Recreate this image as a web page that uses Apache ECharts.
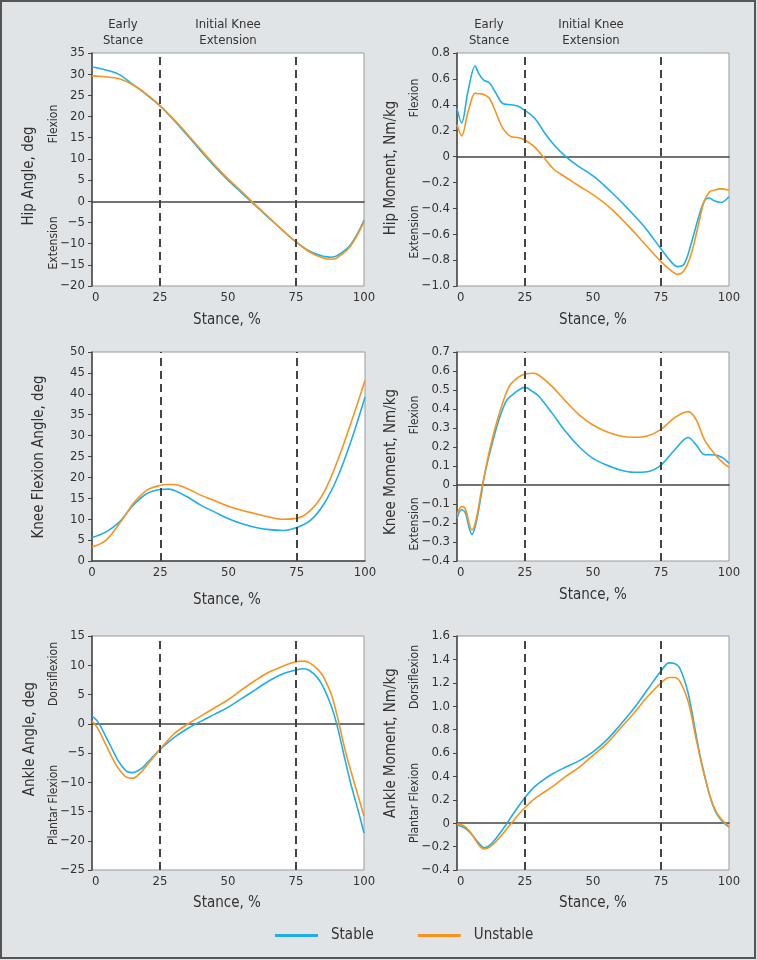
<!DOCTYPE html>
<html>
<head>
<meta charset="utf-8">
<script src="https://cdn.jsdelivr.net/npm/echarts/dist/echarts.min.js"></script>
<style>
html,body{margin:0;padding:0;background:#e1e4e7;}
#chart{width:757px;height:960px;}
</style>
</head>
<body>
<div id="chart"></div>
<script>
// ---------- DATA ----------
const stanceTicks = [0, 25, 50, 75, 100];
const phaseLines = [25, 75];
const seriesNames = ['Stable', 'Unstable'];

const hipAngleX = [0,5,10,15,20,25,30,35,40,45,50,55,60,65,70,75,80,85,88,90,95,100];
const hipAngleStable = [31.7,31.0,29.9,27.6,25.2,22.5,19.2,15.6,11.9,8.3,5.0,2.0,-1.0,-3.9,-6.8,-9.6,-11.8,-13.0,-13.2,-12.9,-10.3,-4.5];
const hipAngleUnstable = [29.6,29.4,28.9,27.5,25.3,22.6,19.4,15.9,12.2,8.6,5.3,2.3,-0.8,-3.8,-6.8,-9.6,-12.0,-13.4,-13.7,-13.4,-10.6,-4.8];

const hipMomentX = [0,1.7,4,6.7,8,9.8,11.9,14.3,16.8,19.8,22.3,24.7,28.4,32,35.7,40,44.3,50.4,56.5,62.7,68.8,74.9,78.6,81,83.5,86,88.4,90.8,92.7,94.5,96.9,100];
const hipMomentStable = [0.37,0.26,0.50,0.70,0.64,0.59,0.57,0.49,0.41,0.40,0.39,0.36,0.30,0.19,0.09,0.0,-0.07,-0.155,-0.27,-0.40,-0.54,-0.71,-0.81,-0.85,-0.83,-0.68,-0.50,-0.35,-0.32,-0.34,-0.355,-0.31];
const hipMomentUnstable = [0.245,0.16,0.34,0.49,0.485,0.48,0.45,0.34,0.22,0.155,0.147,0.13,0.077,-0.01,-0.10,-0.16,-0.22,-0.30,-0.40,-0.53,-0.67,-0.81,-0.88,-0.91,-0.88,-0.76,-0.56,-0.35,-0.275,-0.26,-0.25,-0.26];

const kneeAngleX = [0,5,10,13,15,20,25,28,30,35,40,45,50,55,60,65,70,75,80,85,90,95,100];
const kneeAngleStable = [5.6,6.9,9.3,11.7,13.3,16.1,17.1,17.2,16.9,15.3,13.3,11.7,10.1,8.9,8.0,7.5,7.3,8.0,9.7,13.7,20.1,28.9,39.2];
const kneeAngleUnstable = [3.4,4.9,8.9,11.7,13.7,16.9,18.1,18.3,18.3,17.3,15.7,14.4,13.1,12.1,11.3,10.5,10.0,10.2,12.1,16.5,24.1,33.3,43.2];

const kneeMomentX = [0,1.7,3,5.5,7,9,10,12,15,18,20,25,28,30,35,40,45,50,55,60,65,70,75,80,85,88,91,95,98,100];
const kneeMomentStable = [-0.175,-0.13,-0.145,-0.26,-0.20,-0.044,0.044,0.167,0.325,0.44,0.47,0.514,0.49,0.468,0.377,0.28,0.20,0.14,0.105,0.079,0.067,0.07,0.105,0.184,0.25,0.21,0.16,0.158,0.14,0.114];
const kneeMomentUnstable = [-0.158,-0.114,-0.123,-0.237,-0.184,-0.026,0.044,0.184,0.35,0.48,0.535,0.584,0.588,0.579,0.518,0.44,0.368,0.316,0.28,0.258,0.251,0.258,0.293,0.354,0.386,0.342,0.237,0.158,0.114,0.093];

const ankleAngleX = [0,2,5,8,10,13,15,18,20,25,30,35,40,45,50,55,60,65,70,75,78,80,83,85,88,90,93,95,98,100];
const ankleAngleStable = [1.3,0.45,-2.1,-4.9,-6.6,-8.2,-8.35,-7.7,-6.8,-4.4,-2.4,-0.85,0.4,1.6,2.8,4.3,5.8,7.3,8.5,9.2,9.4,9.1,7.8,6.3,3.0,-0.1,-6.1,-10.0,-15.1,-18.7];
const ankleAngleUnstable = [0.45,-0.7,-3.5,-6.3,-7.8,-9.2,-9.3,-8.3,-7.2,-4.4,-1.8,-0.1,1.3,2.7,4.1,5.8,7.4,8.8,9.8,10.6,10.7,10.4,9.3,8.1,5.0,1.6,-4.4,-7.8,-12.6,-15.8];

const ankleMomentX = [0,3,5,8,10,12,15,18,20,23,25,28,30,35,40,45,50,55,60,65,70,75,78,80,82,85,88,90,93,95,97,100];
const ankleMomentStable = [-0.014,-0.043,-0.085,-0.17,-0.21,-0.19,-0.11,-0.014,0.057,0.157,0.22,0.30,0.34,0.42,0.48,0.535,0.61,0.71,0.84,0.98,1.14,1.30,1.37,1.365,1.32,1.11,0.74,0.51,0.23,0.10,0.03,-0.034];
const ankleMomentUnstable = [-0.006,-0.03,-0.08,-0.185,-0.22,-0.205,-0.14,-0.057,0,0.085,0.134,0.2,0.234,0.31,0.40,0.48,0.58,0.68,0.81,0.94,1.08,1.20,1.245,1.245,1.21,1.04,0.71,0.50,0.23,0.11,0.04,-0.03];

// axis ranges
const hipAngleAxis = {min:-20, max:35, interval:5, dec:0};
const hipMomentAxis = {min:-1.0, max:0.8, interval:0.2, dec:1};
const kneeAngleAxis = {min:0, max:50, interval:5, dec:0};
const kneeMomentAxis = {min:-0.4, max:0.7, interval:0.1, dec:1};
const ankleAngleAxis = {min:-25, max:15, interval:5, dec:0};
const ankleMomentAxis = {min:-0.4, max:1.6, interval:0.2, dec:1};

// ---------- LAYOUT / STYLE ----------
const FONT = "'Liberation Sans Narrow','DejaVu Sans Condensed',sans-serif";
const TXT = '#333';
const BLUE = '#1eaee8';
const ORANGE = '#f7941d';
const TICK_SIZE = 13;
const TITLE_SIZE = 14;
const SMALL_SIZE = 12;

const panels = [
  {x:hipAngleX, s:hipAngleStable, u:hipAngleUnstable, ax:hipAngleAxis, grid:{left:92, top:53, width:272, height:233}},
  {x:hipMomentX, s:hipMomentStable, u:hipMomentUnstable, ax:hipMomentAxis, grid:{left:457, top:53, width:272, height:233}},
  {x:kneeAngleX, s:kneeAngleStable, u:kneeAngleUnstable, ax:kneeAngleAxis, grid:{left:92, top:352, width:273, height:209}},
  {x:kneeMomentX, s:kneeMomentStable, u:kneeMomentUnstable, ax:kneeMomentAxis, grid:{left:457, top:352, width:272, height:209}},
  {x:ankleAngleX, s:ankleAngleStable, u:ankleAngleUnstable, ax:ankleAngleAxis, grid:{left:92, top:636, width:272, height:234}},
  {x:ankleMomentX, s:ankleMomentStable, u:ankleMomentUnstable, ax:ankleMomentAxis, grid:{left:457, top:636, width:272, height:234}}
];

function fmt(dec){
  return function(v){
    if (Math.abs(v) < 1e-9) return '0';
    const s = Math.abs(v).toFixed(dec);
    return (v < 0 ? '\u2212' : '') + s;
  };
}

const grids = [], xAxes = [], yAxes = [], series = [];
panels.forEach((p, i) => {
  grids.push(Object.assign({show:true, backgroundColor:'#fff', borderColor:'#9a9a9a', borderWidth:1, containLabel:false}, p.grid));
  const zeroInside = p.ax.min < 0;
  xAxes.push({
    gridIndex:i, type:'value', min:stanceTicks[0], max:stanceTicks[stanceTicks.length-1],
    interval:stanceTicks[1]-stanceTicks[0],
    axisLine:{show:true, onZero:true, lineStyle:{color:'#444', width:1.5}},
    axisTick:{show:false},
    splitLine:{show:false},
    axisLabel:{fontSize:TICK_SIZE, color:TXT, fontFamily:FONT, margin:5, alignMinLabel: zeroInside ? 'left' : 'center', showMinLabel:true, showMaxLabel:true}
  });
  yAxes.push({
    gridIndex:i, type:'value', min:p.ax.min, max:p.ax.max, interval:p.ax.interval,
    axisLine:{show:true, onZero:false, lineStyle:{color:'#444', width:1.5}},
    axisTick:{show:true, length:4, lineStyle:{color:'#444'}},
    splitLine:{show:false},
    axisLabel:{fontSize:TICK_SIZE, color:TXT, fontFamily:FONT, margin:7, formatter:fmt(p.ax.dec), showMinLabel:true, showMaxLabel:true}
  });
  const common = {type:'line', xAxisIndex:i, yAxisIndex:i, showSymbol:false, smooth:0.35, animation:false};
  series.push(Object.assign({}, common, {
    name:seriesNames[1], data:p.x.map((x,k)=>[x,p.u[k]]), lineStyle:{color:ORANGE, width:1.6}, itemStyle:{color:ORANGE}, z:3
  }));
  series.push(Object.assign({}, common, {
    name:seriesNames[0], data:p.x.map((x,k)=>[x,p.s[k]]), lineStyle:{color:BLUE, width:1.6}, itemStyle:{color:BLUE}, z:2,
    markLine:{silent:true, symbol:['none','none'], label:{show:false}, animation:false,
      lineStyle:{type:[8,5], color:'#444', width:2},
      data: phaseLines.map(v=>({xAxis:v}))}
  }));
});

function txt(x, y, text, size, rot){
  return {type:'text', x:x, y:y, rotation: rot ? Math.PI/2 : 0, silent:true,
    style:{text:text, fill:TXT, font: size + 'px ' + FONT, textAlign:'center', textVerticalAlign:'middle', lineHeight: size+3}};
}

const graphics = [
  {type:'rect', shape:{x:1, y:1, width:754, height:957}, style:{fill:null, stroke:'#555', lineWidth:2}, silent:true},
  // phase titles
  txt(123, 33, 'Early\nStance', SMALL_SIZE+1),
  txt(228, 33, 'Initial Knee\nExtension', SMALL_SIZE+1),
  txt(489, 33, 'Early\nStance', SMALL_SIZE+1),
  txt(591, 33, 'Initial Knee\nExtension', SMALL_SIZE+1),
  // y titles
  txt(29, 176, 'Hip Angle, deg', TITLE_SIZE+1, true),
  txt(391, 168, 'Hip Moment, Nm/kg', TITLE_SIZE+1, true),
  txt(39, 457, 'Knee Flexion Angle, deg', TITLE_SIZE+1, true),
  txt(391, 462, 'Knee Moment, Nm/kg', TITLE_SIZE+1, true),
  txt(30, 739, 'Ankle Angle, deg', TITLE_SIZE+1, true),
  txt(391, 743, 'Ankle Moment, Nm/kg', TITLE_SIZE+1, true),
  // direction labels
  txt(54, 124, 'Flexion', SMALL_SIZE, true),
  txt(54, 243, 'Extension', SMALL_SIZE, true),
  txt(415, 98, 'Flexion', SMALL_SIZE, true),
  txt(415, 232, 'Extension', SMALL_SIZE, true),
  txt(415, 415, 'Flexion', SMALL_SIZE, true),
  txt(415, 524, 'Extension', SMALL_SIZE, true),
  txt(54, 674, 'Dorsiflexion', SMALL_SIZE, true),
  txt(54, 805, 'Plantar Flexion', SMALL_SIZE, true),
  txt(415, 677, 'Dorsiflexion', SMALL_SIZE, true),
  txt(415, 803, 'Plantar Flexion', SMALL_SIZE, true),
  // x titles
  txt(227, 320, 'Stance, %', TITLE_SIZE+1),
  txt(593, 320, 'Stance, %', TITLE_SIZE+1),
  txt(227, 600, 'Stance, %', TITLE_SIZE+1),
  txt(593, 595, 'Stance, %', TITLE_SIZE+1),
  txt(227, 903, 'Stance, %', TITLE_SIZE+1),
  txt(593, 903, 'Stance, %', TITLE_SIZE+1)
];

const chart = echarts.init(document.getElementById('chart'), null, {renderer:'canvas'});
chart.setOption({
  backgroundColor:'#e1e4e7',
  animation:false,
  textStyle:{fontFamily:FONT},
  grid:grids, xAxis:xAxes, yAxis:yAxes, series:series,
  legend:{
    data:seriesNames, left:270, top:923, icon:'rect', itemWidth:43, itemHeight:3, itemGap:44,
    textStyle:{fontSize:TITLE_SIZE+1, color:TXT, fontFamily:FONT, padding:[0,0,0,8]},
    selectedMode:false
  },
  graphic:graphics
});
</script>
</body>
</html>
